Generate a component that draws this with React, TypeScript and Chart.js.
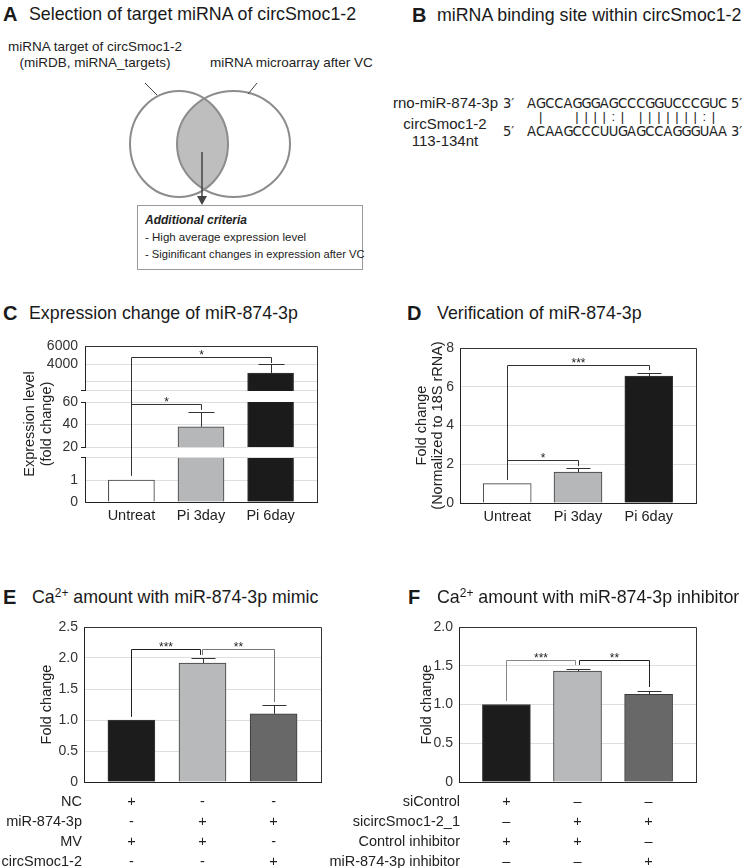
import React, { useEffect, useRef } from 'react';
import { Chart, registerables } from 'chart.js';

Chart.register(...registerables);

const FONT = "'Liberation Sans', Arial, Helvetica, sans-serif";
const NARROW = "'Liberation Sans Narrow', 'Arial Narrow', 'DejaVu Sans Condensed', 'Liberation Sans', sans-serif";
Chart.defaults.font.family = FONT;
Chart.defaults.color = '#222';

// ---------------- data ----------------
// Panel B
const mirName = 'rno-miR-874-3p';
const mirSeq = 'AGCCAGGGAGCCCGGUCCCGUC'; // 3' -> 5'
const circSeq = 'ACAAGCCCUUGAGCCAGGGUAA'; // 5' -> 3'

// Panel C
const expCategories = ['Untreat', 'Pi 3day', 'Pi 6day'];
const expValues = [1, 38, 3000];
const expErrors = [0, 13, 1000];
const expHighTicks = [1000, 2000, 4000, 6000];
const expHighLabels = ['', '', '4000', '6000'];
const expMidTicks = [20, 40, 60];
const expMidLabels = ['20', '40', '60'];
const expLowTicks = [0, 1, 2];
const expLowLabels = ['0', '1', ''];

// Panel D
const verCategories = ['Untreat', 'Pi 3day', 'Pi 6day'];
const verValues = [1, 1.6, 6.55];
const verErrors = [0, 0.2, 0.17];

// Panel E
const mimicValues = [1.0, 1.92, 1.1];
const mimicErrors = [0, 0.08, 0.14];
const mimicRows = ['NC', 'miR-874-3p', 'MV', 'circSmoc1-2'];
const mimicSigns = [
  ['+', '-', '-'],
  ['-', '+', '+'],
  ['+', '+', '-'],
  ['-', '-', '+'],
];

// Panel F
const inhValues = [1.0, 1.43, 1.13];
const inhErrors = [0, 0.03, 0.04];
const inhRows = ['siControl', 'sicircSmoc1-2_1', 'Control inhibitor', 'miR-874-3p inhibitor'];
const inhSigns = [
  ['+', '–', '–'],
  ['–', '+', '+'],
  ['+', '+', '–'],
  ['–', '–', '+'],
];

// significance brackets (data coordinates)
const expBrackets = [
  { x0: 0, x1: 1, y0: 1.2, a0: 'yLow', top: 58, aTop: 'yMid', y1: 53, a1: 'yMid', label: '*' },
  { x0: 0, x1: 2, y0: 1.2, a0: 'yLow', top: 4800, aTop: 'yHigh', y1: 4100, a1: 'yHigh', label: '*' },
];
const verBrackets = [
  { x0: 0, x1: 1, y0: 1.2, top: 2.2, y1: 1.9, label: '*' },
  { x0: 0, x1: 2, y0: 1.2, top: 7.1, y1: 6.85, label: '***' },
];
const mimicBrackets = [
  { x0: 0, x1: 0.965, y0: 1.05, top: 2.15, y1: 2.05, label: '***' },
  { x0: 0.995, x1: 2, y0: 2.05, top: 2.15, y1: 1.29, label: '**' },
];
const inhBrackets = [
  { x0: 0, x1: 0.97, y0: 1.045, top: 1.575, y1: 1.51, label: '***' },
  { x0: 1.015, x1: 2, y0: 1.51, top: 1.575, y1: 1.225, label: '**' },
];

// ---------------- styles ----------------
const GRID = '#dedede';
const AXIS = '#222222';
const fillPi = ['#ffffff', '#b6b7b9', '#1b1b1b'];
const fillCa = ['#1c1c1c', '#b8b9bb', '#686868'];
const edge = '#3a3a3a';
const mimicBracketColors = ['#222', '#777'];
const inhBracketColors = ['#888', '#222'];

// ---------------- plugins ----------------
function errorBars(errors: number[], cap: number) {
  return {
    id: 'errorBars',
    afterDatasetsDraw(chart: any) {
      const ctx = chart.ctx;
      ctx.save();
      ctx.strokeStyle = '#333';
      ctx.lineWidth = 1;
      chart.data.datasets.forEach((ds: any, di: number) => {
        const meta = chart.getDatasetMeta(di);
        const ys = chart.scales[meta.yAxisID];
        meta.data.forEach((el: any, i: number) => {
          const e = errors[i];
          if (!e) return;
          const v = ds.data[i].y;
          const hi = v + e;
          if (v < ys.min || hi > ys.max) return;
          const x = Math.round(el.x) + 0.5;
          const y0 = ys.getPixelForValue(v);
          const y1 = Math.round(ys.getPixelForValue(hi)) + 0.5;
          ctx.beginPath();
          ctx.moveTo(x, y0);
          ctx.lineTo(x, y1);
          ctx.moveTo(x - cap / 2, y1);
          ctx.lineTo(x + cap / 2, y1);
          ctx.stroke();
        });
      });
      ctx.restore();
    },
  };
}

function brackets(items: any[], colors?: string[]) {
  return {
    id: 'brackets',
    afterDatasetsDraw(chart: any) {
      const ctx = chart.ctx;
      const xs = chart.scales.x;
      ctx.save();
      items.forEach((b, k) => {
        const X0 = Math.round(xs.getPixelForValue(b.x0)) + 0.5;
        const X1 = Math.round(xs.getPixelForValue(b.x1)) + 0.5;
        const Y0 = chart.scales[b.a0 || 'y'].getPixelForValue(b.y0);
        const T = Math.round(chart.scales[b.aTop || 'y'].getPixelForValue(b.top)) + 0.5;
        const Y1 = chart.scales[b.a1 || 'y'].getPixelForValue(b.y1);
        ctx.strokeStyle = colors ? colors[k] : '#333';
        ctx.lineWidth = 1;
        ctx.beginPath();
        ctx.moveTo(X0, Y0);
        ctx.lineTo(X0, T);
        ctx.lineTo(X1, T);
        ctx.lineTo(X1, Y1);
        ctx.stroke();
        ctx.fillStyle = '#222';
        ctx.font = `12px ${FONT}`;
        ctx.textAlign = 'center';
        ctx.textBaseline = 'alphabetic';
        ctx.fillText(b.label, (X0 + X1) / 2, T + 1.5);
      });
      ctx.restore();
    },
  };
}

const framePlugin = {
  id: 'frame',
  afterDatasetsDraw(chart: any) {
    const { left, right, top, bottom } = chart.chartArea;
    const ctx = chart.ctx;
    ctx.save();
    ctx.strokeStyle = '#333';
    ctx.lineWidth = 1;
    ctx.beginPath();
    ctx.moveTo(left, Math.round(top) + 0.5);
    ctx.lineTo(Math.round(right) + 0.5, Math.round(top) + 0.5);
    ctx.lineTo(Math.round(right) + 0.5, bottom);
    ctx.stroke();
    ctx.restore();
  },
};

function yTitle(lines: string[], offsets: number[], size = 14.5) {
  return {
    id: 'yTitle',
    afterDraw(chart: any) {
      const { left, top, bottom } = chart.chartArea;
      const ctx = chart.ctx;
      const cy = (top + bottom) / 2;
      ctx.save();
      ctx.font = `${size}px ${FONT}`;
      ctx.fillStyle = '#222';
      ctx.textAlign = 'center';
      ctx.textBaseline = 'middle';
      lines.forEach((t, i) => {
        ctx.save();
        ctx.translate(left + offsets[i], cy);
        ctx.rotate(-Math.PI / 2);
        ctx.fillText(t, 0, 0);
        ctx.restore();
      });
      ctx.restore();
    },
  };
}

function rowLabels(rows: string[], dx: number, pad: number, lh: number) {
  return {
    id: 'rowLabels',
    afterDraw(chart: any) {
      const ctx = chart.ctx;
      const xs = chart.scales.x;
      ctx.save();
      ctx.font = `14.5px ${FONT}`;
      ctx.fillStyle = '#222';
      ctx.textAlign = 'right';
      ctx.textBaseline = 'middle';
      rows.forEach((r, i) => {
        ctx.fillText(r, chart.chartArea.left + dx, xs.top + pad + lh * (i + 0.5));
      });
      ctx.restore();
    },
  };
}

// ---------------- axis builders ----------------
function fixedTicks(values: number[]) {
  return (s: any) => {
    s.ticks = values.map((v) => ({ value: v }));
  };
}

function xAxis(labels: any[], height: number, padding: number, lineHeight: any) {
  return {
    type: 'linear',
    min: -2 / 3,
    max: 2 + 2 / 3,
    offset: false,
    afterBuildTicks: fixedTicks(labels.map((_, i) => i)),
    afterFit: (s: any) => {
      s.height = height;
    },
    ticks: {
      callback: (v: number) => labels[Math.round(v)],
      color: '#222',
      font: { size: 14.5, lineHeight },
      padding,
      maxRotation: 0,
      autoSkip: false,
    },
    grid: { display: false, drawTicks: false, offset: false },
    border: { display: true, color: AXIS, width: 1 },
  };
}

function yAxis(min: number, max: number, step: number, width: number, fmt: (v: number) => string) {
  return {
    type: 'linear',
    min,
    max,
    afterFit: (s: any) => {
      s.width = width;
    },
    ticks: { stepSize: step, padding: 6, color: '#333', font: { size: 14 }, callback: fmt },
    grid: {
      color: (c: any) => (c.tick && (c.tick.value === min || c.tick.value === max) ? 'rgba(0,0,0,0)' : GRID),
      drawTicks: false,
    },
    border: { color: AXIS, width: 1 },
  };
}

function segAxis(min: number, max: number, ticks: number[], labels: string[], breaks: number[], weight: number, stackWeight: number) {
  return {
    type: 'linear',
    position: 'left',
    stack: 'expr',
    stackWeight,
    weight,
    min,
    max,
    afterBuildTicks: fixedTicks(ticks),
    afterFit: (s: any) => {
      s.width = 85;
    },
    ticks: {
      callback: (v: number) => labels[ticks.indexOf(v)] ?? '',
      padding: 3,
      color: '#333',
      font: { size: 14 },
      autoSkip: false,
    },
    grid: {
      color: (c: any) => (c.tick && (c.tick.value === 0 || c.tick.value === 6000) ? 'rgba(0,0,0,0)' : GRID),
      tickColor: (c: any) => (c.tick && breaks.includes(c.tick.value) ? AXIS : 'rgba(0,0,0,0)'),
      tickLength: 4,
      drawTicks: true,
    },
    border: { display: true, color: AXIS, width: 1 },
  };
}

function gapAxis(weight: number, stackWeight: number) {
  return {
    type: 'linear',
    position: 'left',
    stack: 'expr',
    stackWeight,
    weight,
    min: 0,
    max: 1,
    afterFit: (s: any) => {
      s.width = 85;
    },
    ticks: { display: false },
    grid: { display: false, drawTicks: false },
    border: { display: false },
  };
}

const baseOptions = {
  animation: false,
  responsive: false,
  maintainAspectRatio: false,
  events: [],
};
const noPlugins = { legend: { display: false }, tooltip: { enabled: false } };

const fmt1 = (v: number) => (v === 0 ? '0' : v.toFixed(1));

// ---------------- chart configs ----------------
function configC() {
  return {
    type: 'bar',
    data: {
      datasets: ['yLow', 'yMid', 'yHigh'].map((id) => ({
        data: expValues.map((v, i) => ({ x: i, y: v })),
        yAxisID: id,
        xAxisID: 'x',
        backgroundColor: fillPi,
        borderColor: edge,
        borderWidth: 1,
        barThickness: 46,
        grouped: false,
      })),
    },
    options: {
      ...baseOptions,
      layout: { padding: { top: 16, right: 53, left: 0, bottom: 0 } },
      plugins: noPlugins,
      scales: {
        x: xAxis(expCategories, 28, 5, 1.2),
        yHigh: segAxis(1000, 6000, expHighTicks, expHighLabels, [1000], 5, 45),
        gapHigh: gapAxis(4, 11),
        yMid: segAxis(20, 60, expMidTicks, expMidLabels, [20, 60], 3, 45),
        gapLow: gapAxis(2, 11),
        yLow: segAxis(0, 2, expLowTicks, expLowLabels, [2], 1, 44),
      },
    },
    plugins: [errorBars(expErrors, 26), brackets(expBrackets), framePlugin, yTitle(['Expression level', '(fold change)'], [-55, -38])],
  };
}

function configD() {
  return {
    type: 'bar',
    data: {
      datasets: [
        {
          data: verValues.map((v, i) => ({ x: i, y: v })),
          backgroundColor: fillPi,
          borderColor: edge,
          borderWidth: 1,
          barThickness: 48,
        },
      ],
    },
    options: {
      ...baseOptions,
      layout: { padding: { top: 18, right: 51, left: 0, bottom: 0 } },
      plugins: noPlugins,
      scales: {
        x: xAxis(verCategories, 27, 5, 1.2),
        y: yAxis(0, 8, 2, 90, (v) => String(v)),
      },
    },
    plugins: [errorBars(verErrors, 24), brackets(verBrackets), framePlugin, yTitle(['Fold change', '(Normalized to 18S rRNA)'], [-38, -22])],
  };
}

function signColumns(signs: string[][]) {
  return signs[0].map((_, col) => signs.map((row) => row[col]));
}

function configE() {
  return {
    type: 'bar',
    data: {
      datasets: [
        {
          data: mimicValues.map((v, i) => ({ x: i, y: v })),
          backgroundColor: fillCa,
          borderColor: edge,
          borderWidth: 1,
          barThickness: 47,
        },
      ],
    },
    options: {
      ...baseOptions,
      layout: { padding: { top: 17, right: 49, left: 0, bottom: 0 } },
      plugins: noPlugins,
      scales: {
        x: xAxis(signColumns(mimicSigns), 86, 10, '20px'),
        y: yAxis(0, 2.5, 0.5, 84, fmt1),
      },
    },
    plugins: [
      errorBars(mimicErrors, 24),
      brackets(mimicBrackets, mimicBracketColors),
      framePlugin,
      yTitle(['Fold change'], [-37]),
      rowLabels(mimicRows, -2, 10, 20),
    ],
  };
}

function configF() {
  return {
    type: 'bar',
    data: {
      datasets: [
        {
          data: inhValues.map((v, i) => ({ x: i, y: v })),
          backgroundColor: fillCa,
          borderColor: edge,
          borderWidth: 1,
          barThickness: 48,
        },
      ],
    },
    options: {
      ...baseOptions,
      layout: { padding: { top: 17, right: 51, left: 0, bottom: 0 } },
      plugins: noPlugins,
      scales: {
        x: xAxis(signColumns(inhSigns), 86, 10, '20px'),
        y: yAxis(0, 2.0, 0.5, 159, fmt1),
      },
    },
    plugins: [
      errorBars(inhErrors, 24),
      brackets(inhBrackets, inhBracketColors),
      framePlugin,
      yTitle(['Fold change'], [-32]),
      rowLabels(inhRows, 1, 10, 20),
    ],
  };
}

// ---------------- components ----------------
function ChartCanvas({ left, top, width, height, make }: any) {
  const ref = useRef<HTMLCanvasElement>(null);
  useEffect(() => {
    const chart = new Chart(ref.current as HTMLCanvasElement, make() as any);
    return () => chart.destroy();
  }, []);
  return (
    <canvas
      ref={ref}
      width={width}
      height={height}
      style={{ position: 'absolute', left, top, width, height }}
    />
  );
}

function Heading({ letter, lx, tx, cy, children }: any) {
  return (
    <>
      <div style={{ position: 'absolute', left: lx, top: cy - 13, lineHeight: '26px', fontSize: 20, fontWeight: 700, color: '#1a1a1a' }}>
        {letter}
      </div>
      <div style={{ position: 'absolute', left: tx, top: cy - 13, lineHeight: '26px', fontSize: 17.8, color: '#1a1a1a', whiteSpace: 'nowrap' }}>
        {children}
      </div>
    </>
  );
}

function Text({ left, cy, size = 13.5, align = 'left', width, children, style }: any) {
  return (
    <div
      style={{
        position: 'absolute',
        left,
        top: cy - 10,
        width,
        lineHeight: '20px',
        fontSize: size,
        textAlign: align,
        whiteSpace: 'nowrap',
        color: '#222',
        ...style,
      }}
    >
      {children}
    </div>
  );
}

const COL = 9.1;
function SeqRow({ left, cy, lead, seq, tail, font = NARROW, size = 14.5 }: any) {
  return (
    <div
      style={{
        position: 'absolute',
        left,
        top: cy - 9,
        height: 18,
        lineHeight: '18px',
        display: 'flex',
        fontFamily: font,
        fontSize: size,
        color: '#222',
        whiteSpace: 'pre',
      }}
    >
      <span style={{ width: 24, flexShrink: 0 }}>{lead}</span>
      {seq.split('').map((c: string, i: number) => (
        <span key={i} style={{ width: COL, flexShrink: 0, textAlign: 'center' }}>
          {c}
        </span>
      ))}
      {tail ? <span style={{ marginLeft: 4, flexShrink: 0 }}>{tail}</span> : null}
    </div>
  );
}

function pairChar(a: string, b: string) {
  const p = a + b;
  if (p === 'AU' || p === 'UA' || p === 'GC' || p === 'CG') return '|';
  if (p === 'GU' || p === 'UG') return ':';
  return ' ';
}

function Venn() {
  return (
    <svg width={370} height={280} style={{ position: 'absolute', left: 0, top: 0 }}>
      <defs>
        <clipPath id="leftSet">
          <ellipse cx={179} cy={144} rx={49} ry={53} />
        </clipPath>
      </defs>
      <ellipse cx={233.5} cy={144} rx={56.5} ry={53} fill="#bebebe" clipPath="url(#leftSet)" />
      <ellipse cx={179} cy={144} rx={49} ry={53} fill="none" stroke="#8c8c8c" strokeWidth={2} />
      <ellipse cx={233.5} cy={144} rx={56.5} ry={53} fill="none" stroke="#8c8c8c" strokeWidth={2} />
      <line x1={145} y1={83} x2={157} y2={95} stroke="#444" strokeWidth={1} />
      <line x1={257} y1={83} x2={248} y2={94} stroke="#444" strokeWidth={1} />
      <line x1={202} y1={152} x2={202} y2={198} stroke="#444" strokeWidth={1.5} />
      <polygon points="197,196 207,196 202,205" fill="#444" />
    </svg>
  );
}

export default function App() {
  const pairs = mirSeq.split('').map((c, i) => pairChar(c, circSeq[i])).join('');
  return (
    <div
      style={{
        position: 'absolute',
        left: 0,
        top: 0,
        width: 747,
        height: 868,
        overflow: 'hidden',
        background: '#fff',
        fontFamily: FONT,
        color: '#222',
      }}
    >
      {/* Panel A */}
      <Heading letter="A" lx={3} tx={29} cy={14}>
        Selection of target miRNA of circSmoc1-2
      </Heading>
      <Venn />
      <Text left={0} width={190} align="center" cy={47}>miRNA target of circSmoc1-2</Text>
      <Text left={0} width={190} align="center" cy={63}>(miRDB, miRNA_targets)</Text>
      <Text left={210} cy={63}>miRNA microarray after VC</Text>
      <div
        style={{
          position: 'absolute',
          left: 137,
          top: 205,
          width: 224,
          height: 63,
          border: '1.5px solid #9a9a9a',
        }}
      />
      <Text left={145} cy={220} size={12} style={{ fontWeight: 700, fontStyle: 'italic' }}>Additional criteria</Text>
      <Text left={145} cy={237} size={11.5}>- High average expression level</Text>
      <Text left={145} cy={254} size={11.2}>- Siginificant changes in expression after VC</Text>

      {/* Panel B */}
      <Heading letter="B" lx={412} tx={437} cy={15}>
        miRNA binding site within circSmoc1-2
      </Heading>
      <Text left={380} width={118} align="right" cy={103} size={15}>{mirName}</Text>
      <SeqRow left={503} cy={103} lead={'3′'} seq={mirSeq} tail={'5′'} />
      <SeqRow left={503} cy={117} lead={''} seq={pairs} font={FONT} size={13} />
      <SeqRow left={503} cy={131} lead={'5′'} seq={circSeq} tail={'3′'} />
      <Text left={395} width={100} align="center" cy={124} size={15}>circSmoc1-2</Text>
      <Text left={395} width={100} align="center" cy={141} size={15}>113-134nt</Text>

      {/* Panel C */}
      <Heading letter="C" lx={3} tx={29} cy={313}>
        Expression change of miR-874-3p
      </Heading>
      <ChartCanvas left={0} top={330} width={370} height={200} make={configC} />

      {/* Panel D */}
      <Heading letter="D" lx={407} tx={437} cy={313}>
        Verification of miR-874-3p
      </Heading>
      <ChartCanvas left={370} top={330} width={377} height={200} make={configD} />

      {/* Panel E */}
      <Heading letter="E" lx={3} tx={32} cy={597}>
        Ca<span style={{ fontSize: 12, position: 'relative', top: -6 }}>2+</span> amount with miR-874-3p mimic
      </Heading>
      <ChartCanvas left={0} top={610} width={370} height={258} make={configE} />

      {/* Panel F */}
      <Heading letter="F" lx={408} tx={437} cy={597}>
        Ca<span style={{ fontSize: 12, position: 'relative', top: -6 }}>2+</span> amount with miR-874-3p inhibitor
      </Heading>
      <ChartCanvas left={300} top={610} width={447} height={258} make={configF} />
    </div>
  );
}
